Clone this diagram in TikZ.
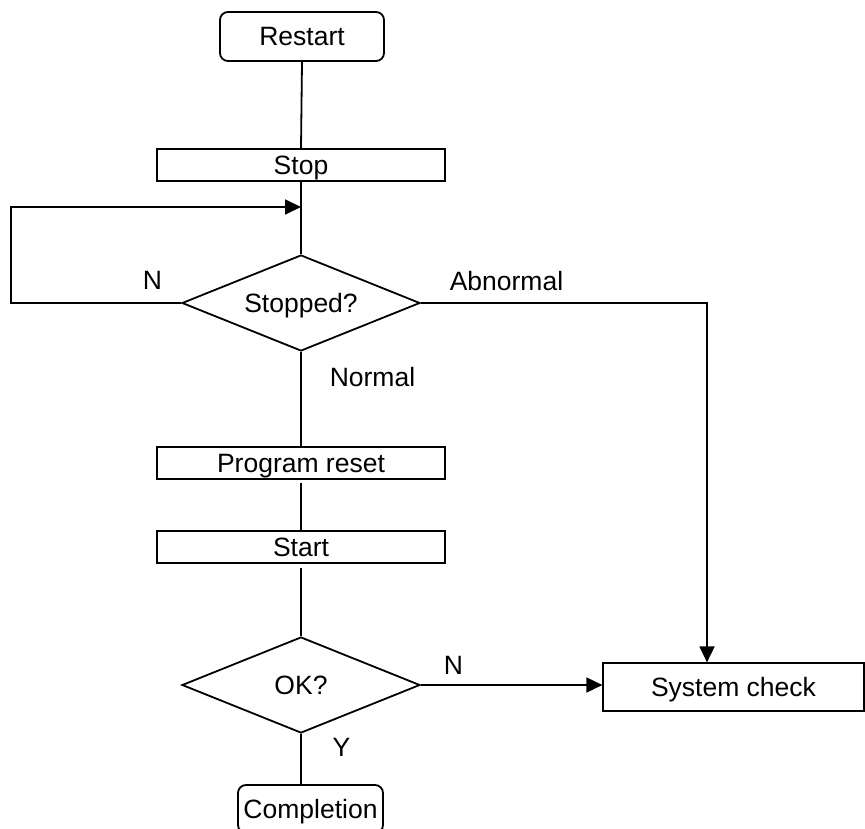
\documentclass[tikz,border=0pt]{standalone}
\usepackage{fontspec}
\setmainfont{Liberation Sans}
\usetikzlibrary{shapes.geometric,arrows.meta}
\begin{document}
\begin{tikzpicture}[x=1pt,y=-1pt,
  every node/.style={font=\fontsize{26.5}{30}\selectfont, inner sep=0pt},
  capbox/.style={text height=19pt, text depth=0pt},
  procbox/.style={draw, line width=1.2pt, capbox, minimum width=288pt, minimum height=32pt},
  termbox/.style={draw, line width=1.8pt, rounded corners=8pt, capbox},
  decbox/.style={draw, line width=1.8pt, diamond, aspect=2.48, minimum width=238pt, minimum height=96pt, capbox},
  conn/.style={line width=1.8pt},
  arr/.style={conn, -{Triangle[length=16pt,width=15pt]}},
  lbl/.style={capbox}]
\clip (0,0) rectangle (865,829);
\node[termbox, minimum width=164pt, minimum height=49pt] (restart) at (302,36.5) {Restart};
\node[procbox] (stop) at (301,165) {Stop};
\coordinate (j1) at (301,207);
\node[decbox] (dec1) at (301,303) {Stopped?};
\node[procbox] (reset) at (301,463) {Program reset};
\node[procbox] (start) at (301,547) {Start};
\node[decbox] (dec2) at (301,685) {OK?};
\node[draw, line width=1.2pt, capbox, minimum width=261pt, minimum height=48pt] (sys) at (733.5,687) {System check};
\node[termbox, minimum width=145pt, minimum height=48pt] (comp) at (310.5,809) {Completion};
\coordinate (lp) at (11,207);
\coordinate (ab) at (707,303);

\draw[conn] (restart.south) -- (stop.north);
\draw[conn] (stop.south) -- (dec1.north);
\draw[arr] (dec1.west) -| (lp) -- (j1);
\draw[arr] (dec1.east) -- (ab) -- (ab |- sys.north);
\draw[conn] (dec1.south) -- (reset.north);
\draw[conn, shorten <=3pt] (reset.south) -- (start.north);
\draw[conn, shorten <=4pt] (start.south) -- (dec2.north);
\draw[arr] (dec2.east) -- (dec2.east -| sys.west);
\draw[conn] (dec2.south) -- (dec2.south |- comp.north);

\node[lbl] (n1) at (152.5,280.5) {N};
\node[lbl] (abn) at (506.5,281) {Abnormal};
\node[lbl] (nor) at (372.5,376.5) {Normal};
\node[lbl] (n2) at (453.5,665) {N};
\node[lbl] (y) at (341.5,746.5) {Y};
\end{tikzpicture}
\end{document}
